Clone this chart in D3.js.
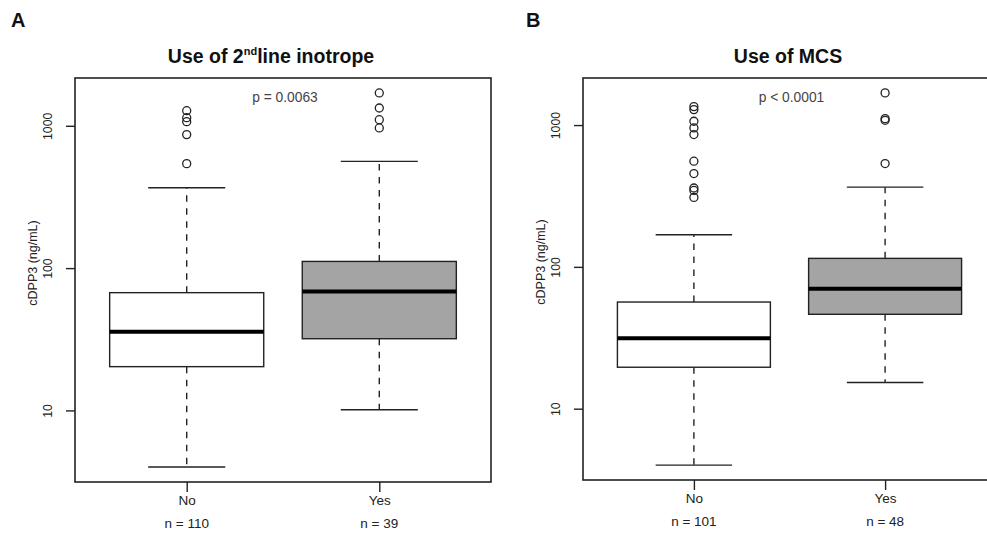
<!DOCTYPE html>
<html>
<head>
<meta charset="utf-8">
<script src="https://cdn.jsdelivr.net/npm/d3@7"></script>
<style>
  html, body { margin: 0; padding: 0; background: #fff; }
  svg { display: block; font-family: "Liberation Sans", Arial, Helvetica, sans-serif; }
</style>
</head>
<body>
<svg id="chart" width="987" height="537"></svg>
<script>
// ---------------- data ----------------
const groups = ["No", "Yes"];
const inotropeCounts = [110, 39];
const mcsCounts = [101, 48];
const yTicks = [10, 100, 1000];

// five-number summaries: [lower whisker, Q1, median, Q3, upper whisker] (ng/mL)
const inotropeNo  = [4.0, 20.3, 35.7, 67.2, 367];
const inotropeYes = [10.1, 31.9, 68.6, 111.4, 562];
const inotropeNoOutliers  = [542, 867, 1069, 1140, 1277];
const inotropeYesOutliers = [966, 1104, 1334, 1701];

const mcsNo  = [4.0, 19.6, 31.4, 56.5, 168.6];
const mcsYes = [15.3, 46.3, 70.2, 114.8, 365];
const mcsNoOutliers  = [309, 346, 360, 455, 556, 857, 955, 1064, 1285, 1349];
const mcsYesOutliers = [535, 1080, 1110, 1686];

const fillColors = ["#ffffff", "#a4a4a4"];

// ---------------- drawing ----------------
const svg = d3.select("#chart");

function drawPanel(cfg) {
  const {letter, letterX, left, right, top, bottom, title, titleX, pText, stats, outliers, counts} = cfg;
  const g = svg.append("g");

  // y scale: log, data range extended by 4% (R style)
  const all = stats.flat().concat(outliers.flat());
  const lmin = Math.log10(d3.min(all)), lmax = Math.log10(d3.max(all));
  const ext = (lmax - lmin) * 0.04;
  const y = d3.scaleLog().domain([Math.pow(10, lmin - ext), Math.pow(10, lmax + ext)]).range([bottom, top]);

  // x scale: positions 1..n, xlim (0.5, n+0.5) extended by 4%
  const n = groups.length;
  const xext = n * 0.04;
  const x = d3.scaleLinear().domain([0.5 - xext, n + 0.5 + xext]).range([left, right]);
  const unit = x(2) - x(1);
  const boxW = unit * 0.8;
  const capW = boxW * 0.5;

  // panel letter
  g.append("text").attr("x", letterX).attr("y", 27)
    .attr("font-size", 20).attr("font-weight", "bold").attr("fill", "#111").text(letter);

  // title
  const cx = (left + right) / 2;
  const t = g.append("text").attr("x", titleX).attr("y", 63).attr("text-anchor", "middle")
    .attr("font-size", 19.5).attr("font-weight", "bold").attr("fill", "#111");
  title.forEach(part => {
    const ts = t.append("tspan").text(part.text);
    if (part.sup) ts.attr("font-size", 11).attr("dy", -8);
    if (part.after) ts.attr("dy", 8);
  });

  // boxes
  stats.forEach((s, i) => {
    const px = x(i + 1);
    const [lo, q1, med, q3, hi] = s;
    // whiskers (dashed)
    g.append("line").attr("x1", px).attr("x2", px).attr("y1", y(q3)).attr("y2", y(hi))
      .attr("stroke", "#222").attr("stroke-width", 1.4).attr("stroke-dasharray", "6.5,6.5");
    g.append("line").attr("x1", px).attr("x2", px).attr("y1", y(q1)).attr("y2", y(lo))
      .attr("stroke", "#222").attr("stroke-width", 1.4).attr("stroke-dasharray", "6.5,6.5");
    // caps
    [lo, hi].forEach(v => {
      g.append("line").attr("x1", px - capW / 2).attr("x2", px + capW / 2)
        .attr("y1", y(v)).attr("y2", y(v)).attr("stroke", "#222").attr("stroke-width", 1.4);
    });
    // box
    g.append("rect").attr("x", px - boxW / 2).attr("width", boxW)
      .attr("y", y(q3)).attr("height", y(q1) - y(q3))
      .attr("fill", fillColors[i]).attr("stroke", "#222").attr("stroke-width", 1.4);
    // median
    g.append("line").attr("x1", px - boxW / 2).attr("x2", px + boxW / 2)
      .attr("y1", y(med)).attr("y2", y(med)).attr("stroke", "#000").attr("stroke-width", 4);
    // outliers
    outliers[i].forEach(v => {
      g.append("circle").attr("cx", px).attr("cy", y(v)).attr("r", 4)
        .attr("fill", "none").attr("stroke", "#222").attr("stroke-width", 1.3);
    });
  });

  // frame
  g.append("rect").attr("x", left).attr("y", top).attr("width", right - left).attr("height", bottom - top)
    .attr("fill", "none").attr("stroke", "#222").attr("stroke-width", 1.6);

  // y axis
  const yAxis = d3.axisLeft(y).tickValues(yTicks).tickFormat(d3.format("d")).tickSize(9).tickPadding(0);
  const ya = g.append("g").attr("transform", `translate(${left},0)`).call(yAxis);
  ya.select(".domain").remove();
  ya.selectAll(".tick line").attr("stroke", "#222").attr("stroke-width", 1.4);
  ya.selectAll(".tick text")
    .attr("font-size", 12.3).attr("fill", "#222").attr("font-family", null)
    .attr("transform", "rotate(-90)").attr("x", 0).attr("y", -23).attr("dy", 0)
    .attr("text-anchor", "middle");

  // y label
  g.append("text").attr("transform", `translate(${left - 38},${(top + bottom) / 2 - 17}) rotate(-90)`)
    .attr("text-anchor", "middle").attr("font-size", 12.5).attr("fill", "#222").text("cDPP3 (ng/mL)");

  // x axis
  const xAxis = d3.axisBottom(x).tickValues(d3.range(1, n + 1)).tickFormat(i => groups[i - 1]).tickSize(10).tickPadding(0);
  const xa = g.append("g").attr("transform", `translate(0,${bottom})`).call(xAxis);
  xa.select(".domain").remove();
  xa.selectAll(".tick line").attr("stroke", "#222").attr("stroke-width", 1.4);
  xa.selectAll(".tick text").attr("font-size", 13.5).attr("fill", "#222").attr("font-family", null)
    .attr("y", 23).attr("dy", 0);
  groups.forEach((gname, i) => {
    g.append("text").attr("x", x(i + 1)).attr("y", bottom + 46).attr("text-anchor", "middle")
      .attr("font-size", 13.5).attr("fill", "#222").text(`n = ${counts[i]}`);
  });

  // p value
  g.append("text").attr("x", cx + 2).attr("y", 102).attr("text-anchor", "middle")
    .attr("font-size", 13.8).attr("fill", "#444").text(pText);
}

drawPanel({
  letter: "A", letterX: 11, left: 75, right: 491, top: 78, bottom: 482, titleX: 271,
  title: [{text: "Use of 2"}, {text: "nd", sup: true}, {text: "line inotrope", after: true}],
  pText: "p = 0.0063",
  stats: [inotropeNo, inotropeYes],
  outliers: [inotropeNoOutliers, inotropeYesOutliers],
  counts: inotropeCounts
});

drawPanel({
  letter: "B", letterX: 526, left: 583, right: 996, top: 78, bottom: 480, titleX: 788,
  title: [{text: "Use of MCS"}],
  pText: "p < 0.0001",
  stats: [mcsNo, mcsYes],
  outliers: [mcsNoOutliers, mcsYesOutliers],
  counts: mcsCounts
});
</script>
</body>
</html>
